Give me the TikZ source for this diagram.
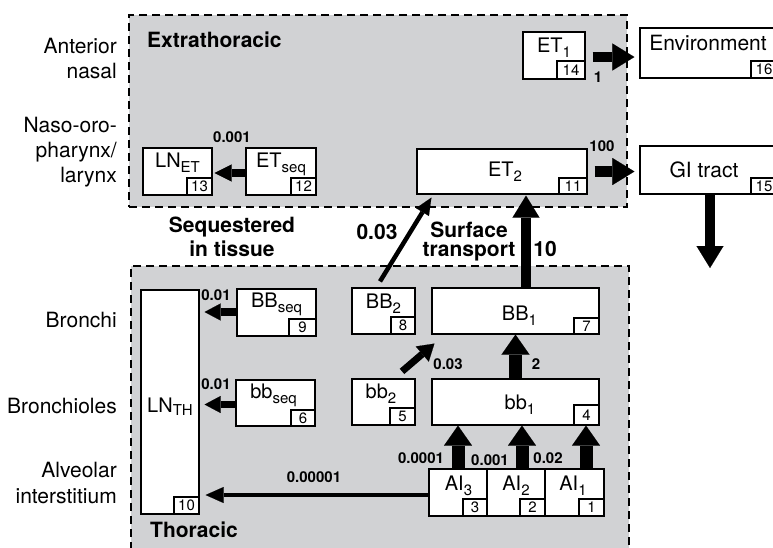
\documentclass[tikz,border=0pt]{standalone}
\usepackage{fontspec}
\setmainfont{TeX Gyre Heros}
\usetikzlibrary{arrows.meta,calc}
\definecolor{regiongray}{RGB}{209,210,212}
\newcommand\lsub[2][5pt]{\raisebox{-#1}{\fontsize{15}{15}\selectfont #2}}
\begin{document}
\begin{tikzpicture}[x=1pt,y=-1pt,
  region/.style={draw, dash pattern=on 8pt off 5pt, line width=2.6pt, fill=regiongray, inner sep=0pt},
  box/.style={draw, fill=white, line width=1.2pt, inner sep=0pt},
  numbox/.style={draw, fill=white, line width=1.2pt, inner sep=0pt, minimum width=25pt, minimum height=17pt, font=\fontsize{15}{15}\selectfont, anchor=south east},
  boxtext/.style={anchor=base, inner sep=0pt, font=\fontsize{20}{24}\selectfont},
  sidetext/.style={anchor=base east, inner sep=0pt, font=\fontsize{21}{25}\selectfont},
  rate/.style={inner sep=0pt, font=\bfseries\fontsize{15}{18}\selectfont},
  bigrate/.style={inner sep=0pt, font=\bfseries\fontsize{21}{24}\selectfont},
  regiontext/.style={anchor=base west, inner sep=0pt, font=\bfseries\fontsize{21}{24}\selectfont},
  midtext/.style={anchor=base, inner sep=0pt, font=\bfseries\fontsize{21}{24}\selectfont},
  bigarr/.style={line width=10.5pt, -{Triangle[width=27pt,length=22pt,line width=0.1pt]}},
  aiarr/.style={line width=13pt, -{Triangle[width=28pt,length=20pt,line width=0.1pt]}},
  midarr/.style={line width=7.5pt, -{Triangle[width=17pt,length=16pt,line width=0.1pt]}},
  smallarr/.style={line width=8.5pt, -{Triangle[width=17pt,length=17pt,line width=0.1pt]}},
  diagarr/.style={line width=7pt, -{Triangle[width=20pt,length=16pt,line width=0.1pt]}},
  thinarr/.style={line width=4.5pt, -{Triangle[width=15pt,length=17pt,line width=0.1pt]}},
]
\useasboundingbox (0,0) rectangle (773,547);
\clip (0,0) rectangle (773,547);

% regions
\node[region, minimum width=498pt, minimum height=192pt] (extra) at (378,111) {};
\node[region, minimum width=498pt, minimum height=314pt] (thor) at (380,423) {};
\node[regiontext] (extralabel) at (147,47) {Extrathoracic};
\node[regiontext] (thorlabel) at (150,537) {Thoracic};

% side labels
\node[sidetext] (s1) at (117,53) {Anterior};
\node[sidetext] (s2) at (117,78) {nasal};
\node[sidetext] (s3) at (117,132) {Naso-oro-};
\node[sidetext] (s4) at (117,157) {pharynx/};
\node[sidetext] (s5) at (117,182) {larynx};
\node[sidetext] (s6) at (117,327) {Bronchi};
\node[sidetext] (s7) at (117,413) {Bronchioles};
\node[sidetext] (s8) at (117,477) {Alveolar};
\node[sidetext] (s9) at (117,503) {interstitium};

% extrathoracic boxes
\node[box, minimum width=69pt, minimum height=47pt] (lnet) at (177.5,171.5) {};
\node[numbox] (n13) at (lnet.south east) {13};
\node[boxtext] (tlnet) at (177.5,167) {LN\lsub{ET}};

\node[box, minimum width=70pt, minimum height=47pt] (etseq) at (281,171.5) {};
\node[numbox] (n12) at (etseq.south east) {12};
\node[boxtext] (tetseq) at (281,167) {ET\lsub{seq}};

\node[box, minimum width=62pt, minimum height=47pt] (et1) at (554,55.5) {};
\node[numbox, minimum width=28pt, minimum height=18pt] (n14) at (et1.south east) {14};
\node[boxtext] (tet1) at (554,52) {ET\lsub{1}};

\node[box, minimum width=170pt, minimum height=45pt] (et2) at (502,171.5) {};
\node[numbox, minimum width=28pt, minimum height=16pt] (n11) at (et2.south east) {11};
\node[boxtext] (tet2) at (505,176) {ET\lsub{2}};

\node[box, minimum width=137pt, minimum height=50pt] (env) at (708.5,53) {};
\node[numbox, minimum width=26pt] (n16) at (env.south east) {16};
\node[boxtext, font=\fontsize{21}{24}\selectfont] (tenv) at (708,50) {Environment};

\node[box, minimum width=137pt, minimum height=48pt] (gi) at (708.5,170) {};
\node[numbox, minimum width=26pt, minimum height=16pt] (n15) at (gi.south east) {15};
\node[boxtext, font=\fontsize{21}{24}\selectfont] (tgi) at (704,177) {GI tract};

% thoracic boxes
\node[box, minimum width=58pt, minimum height=224pt] (lnth) at (170,402) {};
\node[numbox] (n10) at (lnth.south east) {10};
\node[boxtext] (tlnth) at (170,412) {LN\lsub[3pt]{TH}};

\node[box, minimum width=79pt, minimum height=47pt] (bbseq) at (276.5,312.5) {};
\node[numbox, minimum width=27pt] (n9) at (bbseq.south east) {9};
\node[boxtext] (tbbseq) at (276.5,307) {BB\lsub{seq}};

\node[box, minimum width=79pt, minimum height=46pt] (bbsq) at (275.5,403) {};
\node[numbox, minimum width=24pt, minimum height=16pt] (n6) at (bbsq.south east) {6};
\node[boxtext] (tbbsq) at (273.5,398) {bb\lsub{seq}};

\node[box, minimum width=63pt, minimum height=46pt] (BBtwo) at (383.5,311) {};
\node[numbox, minimum width=24pt] (n8) at (BBtwo.south east) {8};
\node[boxtext] (tBBtwo) at (383.5,308) {BB\lsub{2}};

\node[box, minimum width=63pt, minimum height=46pt] (bbtwo) at (383.5,402) {};
\node[numbox] (n5) at (bbtwo.south east) {5};
\node[boxtext] (tbbtwo) at (381,398) {bb\lsub{2}};

\node[box, minimum width=167pt, minimum height=46pt] (BBone) at (515.5,311) {};
\node[numbox, minimum height=16pt] (n7) at (BBone.south east) {7};
\node[boxtext] (tBBone) at (519.5,320) {BB\lsub{1}};

\node[box, minimum width=167pt, minimum height=46pt] (bbone) at (515.5,402) {};
\node[numbox, minimum height=20pt] (n4) at (bbone.south east) {4};
\node[boxtext] (tbbone) at (520,409) {bb\lsub{1}};

\node[box, minimum width=58pt, minimum height=47pt] (AIthree) at (458,492.5) {};
\node[numbox, minimum width=24pt] (n3) at (AIthree.south east) {3};
\node[boxtext] (tAIthree) at (458.5,490) {AI\lsub{3}};

\node[box, minimum width=58pt, minimum height=47pt] (AItwo) at (516,492.5) {};
\node[numbox] (n2) at (AItwo.south east) {2};
\node[boxtext] (tAItwo) at (516,490) {AI\lsub{2}};

\node[box, minimum width=59pt, minimum height=47pt] (AIone) at (574.5,492.5) {};
\node[numbox] (n1) at (AIone.south east) {1};
\node[boxtext] (tAIone) at (573,490) {AI\lsub{1}};

% connectors
\draw[smallarr] ($(etseq.west)+(0,1.5)$) -- ($(lnet.east|-etseq.west)+(2,1.5)$);
\draw[bigarr] ($(et1.east)+(7,1.5)$) -- ($(env.west|-et1.east)+(-5,1.5)$);
\draw[bigarr] ($(et2.east)+(7,0)$) -- ($(gi.west|-et2.east)+(-5,0)$);
\coordinate (giend) at (710,268);
\draw[bigarr] ($(gi.south)+(1.5,0)$) -- (giend);
\draw[bigarr] ($(BBone.north)+(10.5,0)$) -- ($(et2.south)+(24,1)$);
\draw[thinarr] ($(BBtwo.north)+(-3.5,-6)$) -- ($(et2.south west)+(15,3)$);
\draw[aiarr] (bbone.north) -- (BBone.south);
\draw[diagarr] ($(bbtwo.north)+(18.5,-7)$) -- ($(BBone.south west)+(3,9)$);
\draw[aiarr] (AIthree.north) -- (AIthree.north|-bbone.south);
\draw[aiarr] ($(AItwo.north)+(6,0)$) -- ($(AItwo.north|-bbone.south)+(6,0)$);
\draw[aiarr] ($(AIone.north)+(11.5,0)$) -- ($(AIone.north|-bbone.south)+(11.5,0)$);
\draw[midarr] ($(bbseq.west)+(0,-0.5)$) -- ($(lnth.east|-bbseq.west)+(5,-0.5)$);
\draw[midarr] ($(bbsq.west)+(0,1.5)$) -- ($(lnth.east|-bbsq.west)+(5,1.5)$);
\draw[thinarr, -{Triangle[width=16pt,length=18pt,line width=0.1pt]}] ($(AIthree.west)+(0,2.5)$) -- ($(lnth.east|-AIthree.west)+(6,2.5)$);

% rate labels
\node[rate] (r1) at (232,137) {0.001};
\node[rate] (r2) at (598,77) {1};
\node[rate] (r3) at (602,146) {100};
\node[bigrate] (r4) at (545,249) {10};
\node[bigrate] (r5) at (377,232) {0.03};
\node[rate] (r6) at (448,364) {0.03};
\node[rate] (r7) at (536,364) {2};
\node[rate] (r8) at (216,295) {0.01};
\node[rate] (r9) at (216,384) {0.01};
\node[rate] (r10) at (421,458) {0.0001};
\node[rate] (r11) at (490,460) {0.001};
\node[rate] (r12) at (548,458) {0.02};
\node[rate] (r13) at (314,477) {0.00001};

\node[midtext] (sq1) at (232,232) {Sequestered};
\node[midtext] (sq2) at (232,256) {in tissue};
\node[midtext] (st1) at (469,237) {Surface};
\node[midtext] (st2) at (469,256) {transport};
\end{tikzpicture}
\end{document}
